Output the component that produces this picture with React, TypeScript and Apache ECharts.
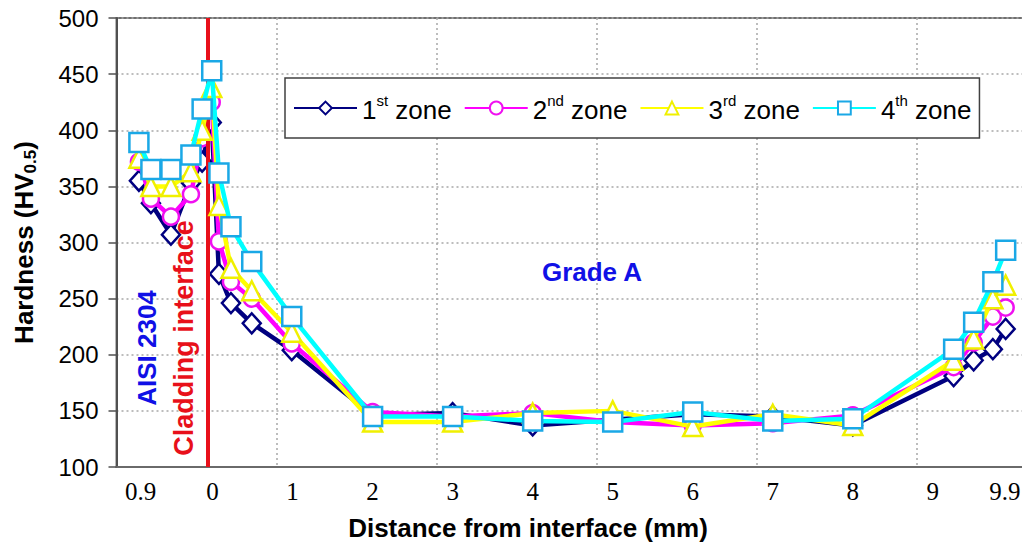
import React, { useEffect, useRef } from "react";
import * as echarts from "echarts";

// Distance from the cladding interface (mm); negative values lie in the AISI 2304 side
const distances = [-0.92, -0.77, -0.52, -0.27, -0.13, -0.01, 0.08, 0.23, 0.49, 0.99, 2, 3, 4, 5, 6, 7, 8, 9.26, 9.51, 9.75, 9.91];
const zone1 = [355, 335, 307, 353, 372, 407, 272, 246, 228, 204, 146, 148, 137, 142, 147, 145, 137, 181, 195, 205, 223];
const zone2 = [372, 339, 323, 343, 393, 425, 301, 265, 250, 210, 149, 145, 148, 140, 137, 139, 146, 189, 211, 234, 242];
const zone3 = [375, 350, 350, 363, 400, 438, 333, 277, 257, 220, 140, 140, 148, 150, 136, 147, 137, 195, 214, 250, 262];
const zone4 = [389, 365, 365, 378, 419, 453, 362, 314, 283, 234, 145, 145, 141, 140, 149, 141, 143, 205, 229, 265, 293];

const zoneNames = ["1st zone", "2nd zone", "3rd zone", "4th zone"];
const zoneNumbers = ["1", "2", "3", "4"];
const zoneSuffixes = ["st", "nd", "rd", "th"];

const xTickValues = [-0.9, 0, 1, 2, 3, 4, 5, 6, 7, 8, 9, 9.9];
const xTickLabels = ["0.9", "0", "1", "2", "3", "4", "5", "6", "7", "8", "9", "9.9"];
const interfacePosition = -0.06;

const SANS = '"Liberation Sans", Arial, Helvetica, sans-serif';
const SERIF = '"Liberation Serif", "Times New Roman", serif';

const lineColors = ["#000080", "#ff00ff", "#ffff00", "#00ffff"];
const markerColors = ["#000080", "#f010f0", "#f0f000", "#1aa8e6"];
const symbols = ["diamond", "circle", "triangle", "rect"];
const symbolSizes = [[18, 20], 16, 19, 19];

export default function App() {
  const ref = useRef<HTMLDivElement>(null);

  useEffect(() => {
    if (!ref.current) return;
    const chart = echarts.init(ref.current, undefined, { renderer: "svg" });
    const zones = [zone1, zone2, zone3, zone4];

    const series: any[] = zones.map((vals, i) => ({
      name: zoneNames[i],
      type: "line",
      xAxisIndex: 0,
      yAxisIndex: 0,
      data: distances.map((d, j) => [d, vals[j]]),
      symbol: symbols[i],
      symbolSize: symbolSizes[i],
      showAllSymbol: true,
      lineStyle: { color: lineColors[i], width: 4.5 },
      itemStyle: { color: "#ffffff", borderColor: markerColors[i], borderWidth: 2.5 },
      z: 3 + i,
    }));

    series.push({
      name: "interface",
      type: "line",
      data: [],
      z: 10,
      markLine: {
        silent: true,
        symbol: "none",
        label: { show: false },
        lineStyle: { color: "#e8101a", width: 4, type: "solid" },
        data: [{ xAxis: interfacePosition }],
      },
    });

    const dotted = { type: [2, 3] as any, color: "#a8a8a8", width: 1.5 };

    chart.setOption({
      animation: false,
      grid: {
        left: 111.5,
        top: 18,
        width: 965.4,
        height: 449,
        show: true,
        borderColor: "#707070",
        borderWidth: 2,
        backgroundColor: "transparent",
      },
      legend: {
        data: zoneNames,
        left: 285,
        top: 78,
        orient: "horizontal",
        itemWidth: 63,
        itemHeight: 16,
        itemGap: 12,
        padding: [15, 8],
        borderColor: "#404040",
        borderWidth: 1.5,
        backgroundColor: "#ffffff",
        textStyle: {
          fontFamily: SANS,
          fontSize: 26,
          color: "#000",
          rich: {
            n: { fontFamily: SANS, fontSize: 26, color: "#000", lineHeight: 30, verticalAlign: "bottom" },
            s: { fontFamily: SANS, fontSize: 15, color: "#000", lineHeight: 18, verticalAlign: "top" },
          },
        },
        formatter: (name: string) => {
          const i = zoneNames.indexOf(name);
          return `{n|${zoneNumbers[i]}}{s|${zoneSuffixes[i]}}{n| zone}`;
        },
      },
      xAxis: [
        {
          type: "value",
          min: -1.2,
          max: 10.8,
          position: "bottom",
          axisLine: { show: true, onZero: false, lineStyle: { color: "#6a6a6a", width: 2 } },
          axisTick: { show: false },
          splitLine: { show: false },
          axisLabel: {
            customValues: xTickValues,
            fontFamily: SERIF,
            fontSize: 25,
            color: "#000",
            margin: 12,
            formatter: (v: number) => {
              const i = xTickValues.findIndex((t) => Math.abs(t - v) < 1e-6);
              return i >= 0 ? xTickLabels[i] : "";
            },
          },
        },
        {
          type: "value",
          min: 0,
          max: 12,
          interval: 2,
          position: "top",
          axisLine: { show: false, onZero: false },
          axisTick: { show: false },
          axisLabel: { show: false },
          splitLine: { show: true, lineStyle: dotted },
        },
      ],
      yAxis: {
        type: "value",
        min: 100,
        max: 500,
        interval: 50,
        position: "left",
        axisLine: { show: true, onZero: false, lineStyle: { color: "#505050", width: 2 } },
        axisTick: { show: true, length: 8, lineStyle: { color: "#505050", width: 1.5 } },
        axisLabel: { fontFamily: SANS, fontSize: 24, color: "#000", margin: 18 },
        splitLine: { show: true, lineStyle: dotted },
        name: "{a|Hardness (HV}{b|0.5}{a|)}",
        nameLocation: "middle",
        nameRotate: 90,
        nameGap: 78,
        nameTextStyle: {
          rich: {
            a: { fontFamily: SANS, fontSize: 26, fontWeight: "bold", color: "#000", lineHeight: 30 },
            b: { fontFamily: SANS, fontSize: 17, fontWeight: "bold", color: "#000", lineHeight: 20, padding: [14, 0, 0, 0] },
          },
        },
      },
      graphic: [
        {
          type: "text",
          x: 184,
          y: 338,
          rotation: Math.PI / 2,
          z: 20,
          style: {
            text: "Cladding interface",
            fill: "#e8101a",
            font: `bold 27px ${SANS}`,
            align: "center",
            verticalAlign: "middle",
          },
        },
        {
          type: "text",
          x: 147,
          y: 348,
          rotation: Math.PI / 2,
          z: 20,
          style: {
            text: "AISI 2304",
            fill: "#1010e6",
            font: `bold 26px ${SANS}`,
            align: "center",
            verticalAlign: "middle",
          },
        },
        {
          type: "text",
          x: 592,
          y: 272,
          z: 20,
          style: {
            text: "Grade A",
            fill: "#1010e6",
            font: `bold 26px ${SANS}`,
            align: "center",
            verticalAlign: "middle",
          },
        },
        {
          type: "text",
          x: 528,
          y: 528,
          z: 20,
          style: {
            text: "Distance from interface (mm)",
            fill: "#000",
            font: `bold 26px ${SANS}`,
            align: "center",
            verticalAlign: "middle",
          },
        },
      ],
      series,
    });

    return () => chart.dispose();
  }, []);

  return (
    <div
      style={{
        position: "absolute",
        left: 0,
        top: 0,
        width: 1022,
        height: 546,
        overflow: "hidden",
        background: "#fff",
      }}
    >
      <div ref={ref} style={{ width: 1100, height: 546 }} />
    </div>
  );
}
